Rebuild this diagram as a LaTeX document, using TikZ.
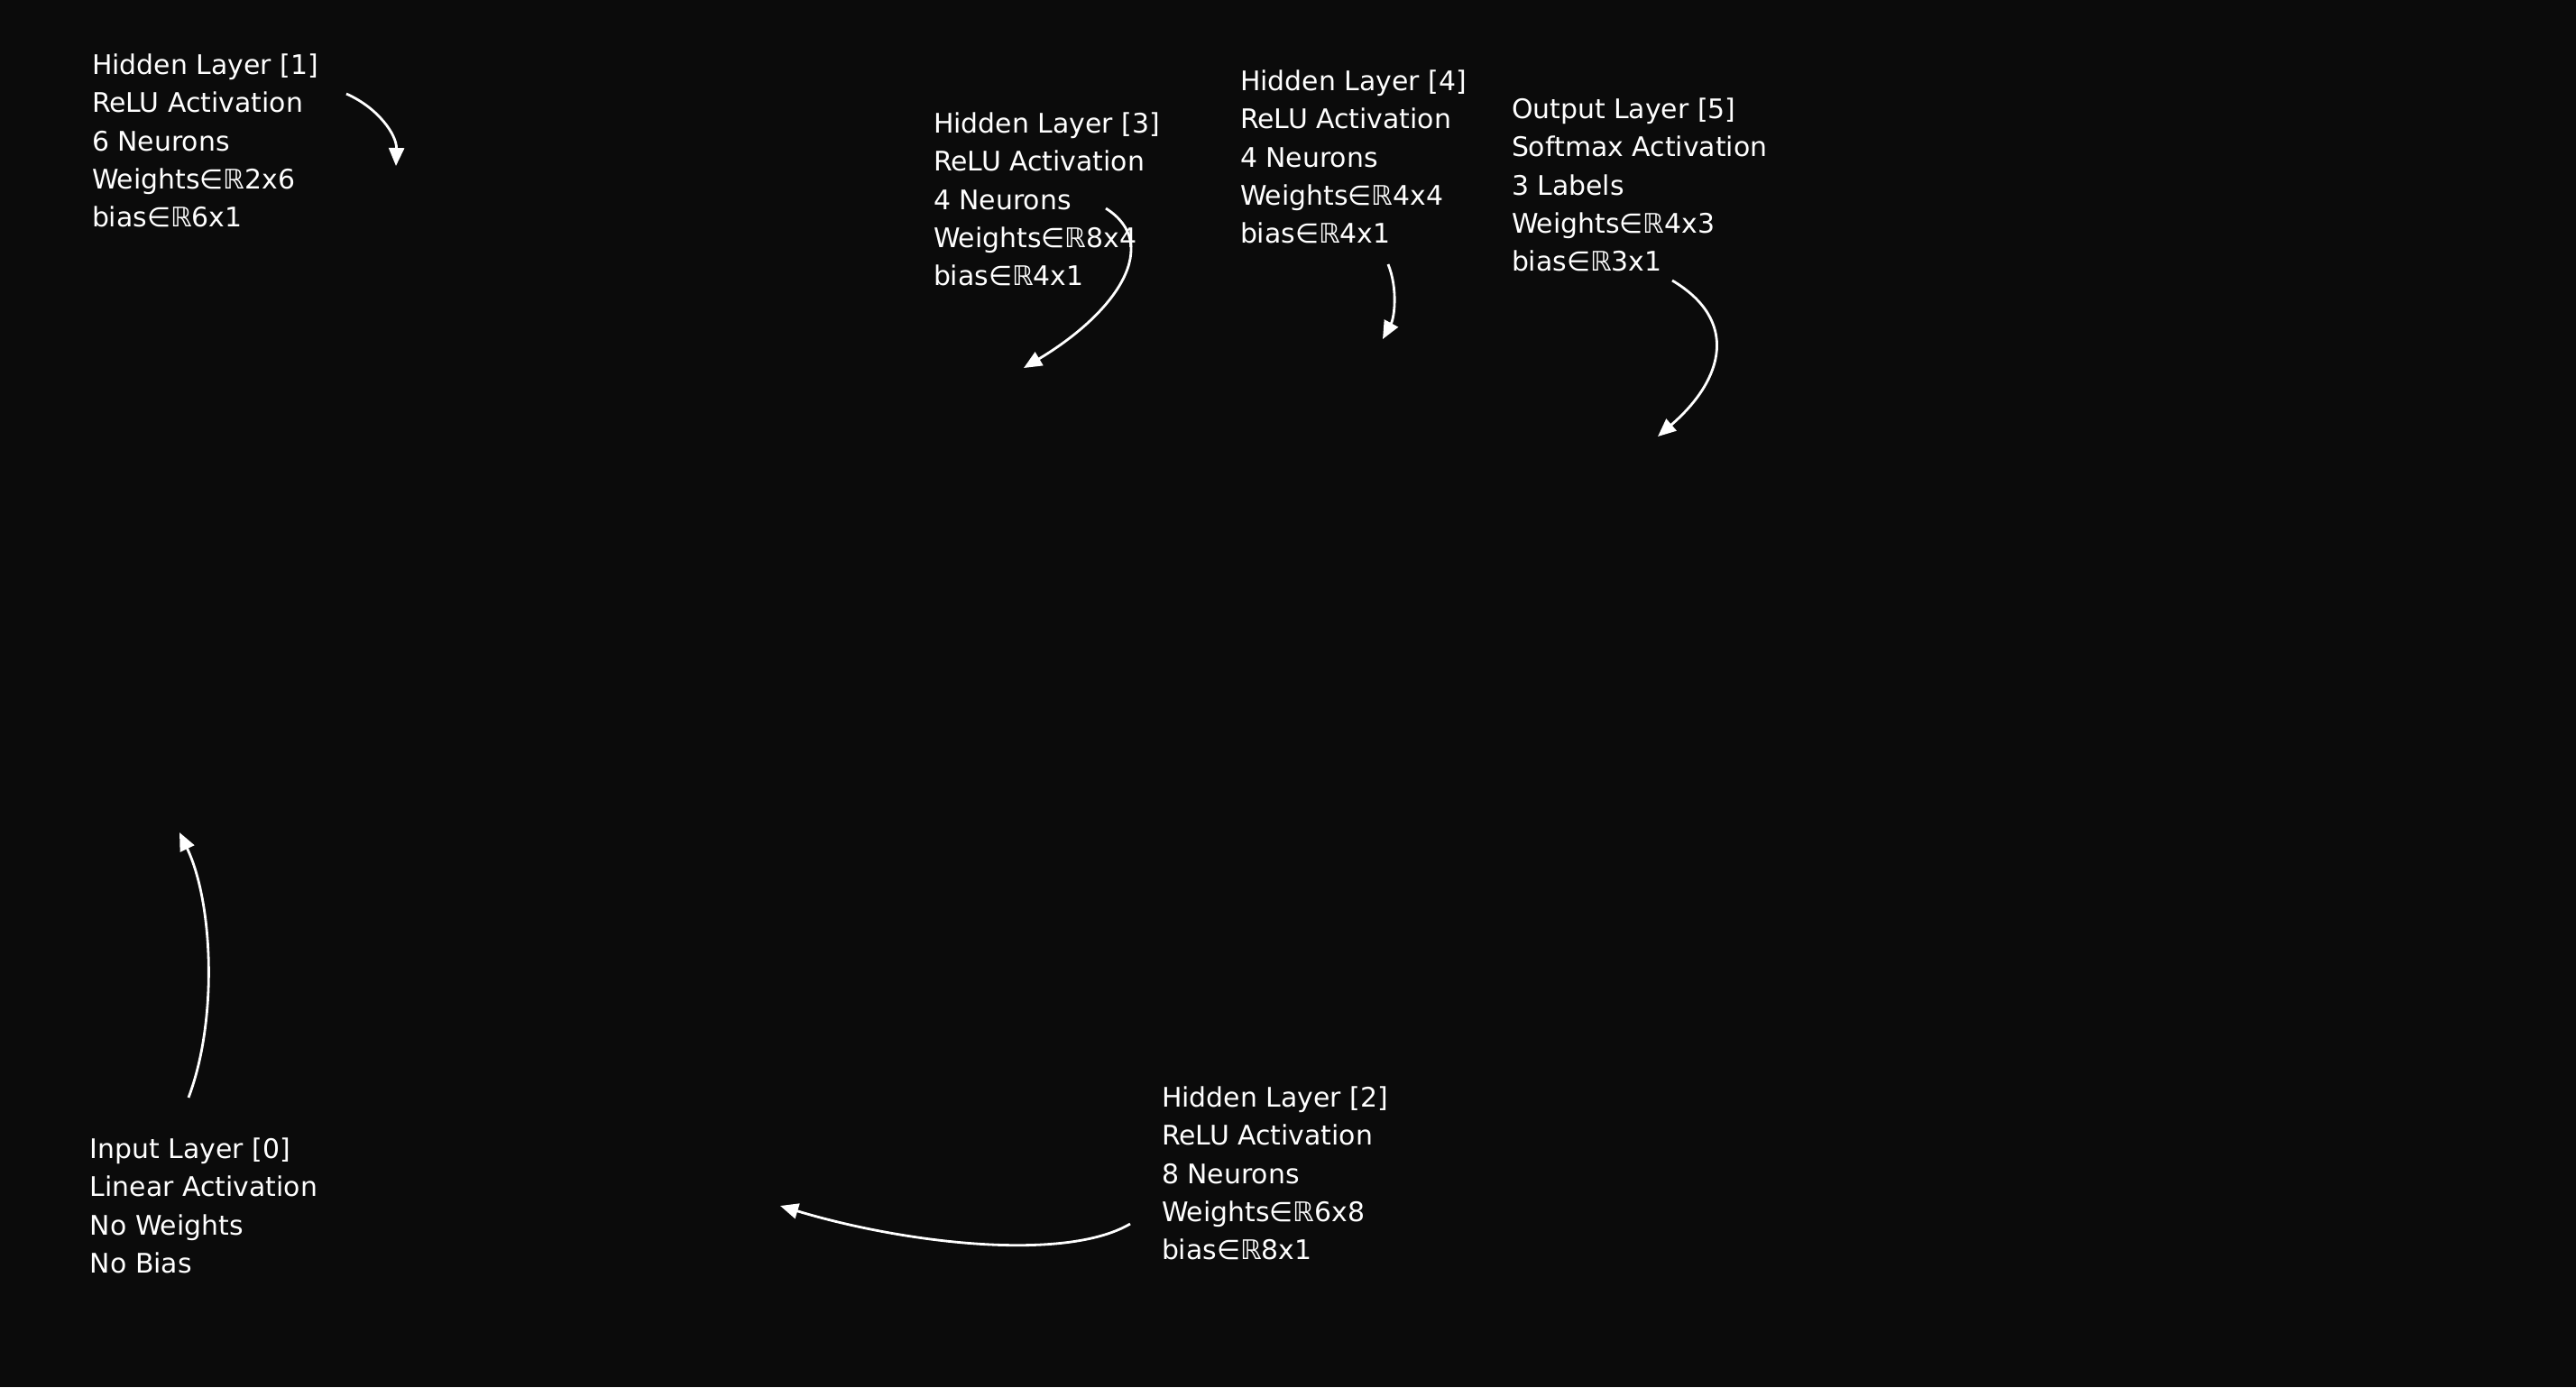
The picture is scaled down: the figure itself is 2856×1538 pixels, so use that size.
\documentclass[tikz,border=0pt]{standalone}
\usepackage{fontspec}
\setmainfont{DejaVu Sans}
\usetikzlibrary{arrows.meta}
\definecolor{bgblack}{HTML}{0B0B0B}
\begin{document}
\begin{tikzpicture}
[
x=0.01cm, y=-0.01cm,
% 層の説明文
layer/.style={anchor=north west, inner sep=0, outer sep=0, align=left,
text=white, font=\fontsize{8.5}{12}\selectfont},
% 矢印の設定
arrow/.style={-{Triangle[length=0.2cm, width=0.17cm]}, draw=white, line width=0.8pt}
]
% 背景
\fill [bgblack] (0,0) rectangle (2856,1538);
\useasboundingbox (0,0) rectangle (2856,1538);

% 説明文の配置
\node [layer] (L1) at (102,60) {Hidden Layer [1]\\ReLU Activation\\6 Neurons\\Weights∈ℝ2x6\\bias∈ℝ6x1};
\node [layer] (L3) at (1035,125) {Hidden Layer [3]\\ReLU Activation\\4 Neurons\\Weights∈ℝ8x4\\bias∈ℝ4x1};
\node [layer] (L4) at (1375,78) {Hidden Layer [4]\\ReLU Activation\\4 Neurons\\Weights∈ℝ4x4\\bias∈ℝ4x1};
\node [layer] (L5) at (1676,109) {Output Layer [5]\\Softmax Activation\\3 Labels\\Weights∈ℝ4x3\\bias∈ℝ3x1};
\node [layer] (L0) at (100,1262) {Input Layer [0]\\Linear Activation\\No Weights\\No Bias};
\node [layer] (L2) at (1288,1205) {Hidden Layer [2]\\ReLU Activation\\8 Neurons\\Weights∈ℝ6x8\\bias∈ℝ8x1};

% 矢印の端点
\coordinate (L1a) at (384,104);
\coordinate (L1b) at (439,184);
\coordinate (L3a) at (1226,231);
\coordinate (L3b) at (1135,408);
\coordinate (L4a) at (1539,293);
\coordinate (L4b) at (1533,376);
\coordinate (L5a) at (1854,311);
\coordinate (L5b) at (1838,484);
\coordinate (L2a) at (1253,1357);
\coordinate (L2b) at (865,1337);
\coordinate (L0a) at (209,1217);
\coordinate (L0b) at (199,923);

% 矢印
\draw [arrow] (L1a) .. controls (420,120) and (440,150) .. (L1b);
\draw [arrow] (L3a) .. controls (1288,270) and (1240,345) .. (L3b);
\draw [arrow] (L4a) .. controls (1550,320) and (1546,352) .. (L4b);
\draw [arrow] (L5a) .. controls (1928,355) and (1912,420) .. (L5b);
\draw [arrow] (L2a) .. controls (1180,1400) and (1000,1378) .. (L2b);
\draw [arrow] (L0a) .. controls (242,1130) and (236,1000) .. (L0b);
\end{tikzpicture}
\end{document}
